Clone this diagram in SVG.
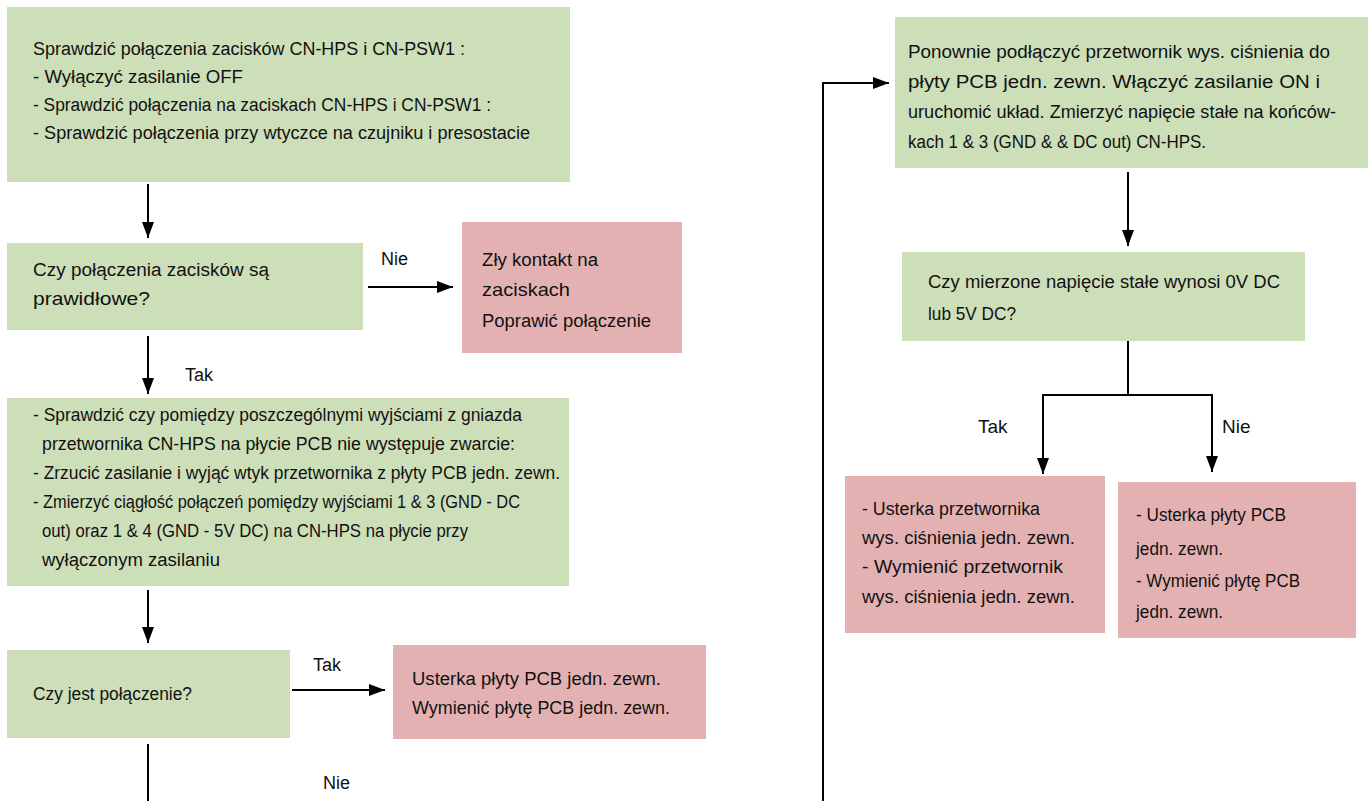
<svg xmlns="http://www.w3.org/2000/svg" width="1370" height="801" viewBox="0 0 1370 801">
<defs>
<marker id="ah" viewBox="0 0 16 12" refX="16" refY="6" markerWidth="16" markerHeight="12" markerUnits="userSpaceOnUse" orient="auto">
<path d="M0,0 L16,6 L0,12 z" fill="#000"/>
</marker>
<style>
.g{fill:#cddfb9}
.p{fill:#e3b1b1}
text{font-family:"Liberation Sans",Arial,sans-serif;font-size:18px;fill:#111}
.c{stroke:#000;stroke-width:2;fill:none}
.a{stroke:#000;stroke-width:2;fill:none;marker-end:url(#ah)}
</style>
</defs>
<rect width="1370" height="801" fill="#fff"/>

<g id="n1">
<rect class="g" x="7" y="7" width="563" height="175"/>
<text x="33" y="55" textLength="432" lengthAdjust="spacingAndGlyphs">Sprawdzić  połączenia  zacisków  CN-HPS  i  CN-PSW1 :</text>
<text x="33" y="83" textLength="210" lengthAdjust="spacingAndGlyphs">- Wyłączyć zasilanie OFF</text>
<text x="33" y="111" textLength="458" lengthAdjust="spacingAndGlyphs">- Sprawdzić  połączenia na zaciskach CN-HPS i CN-PSW1 :</text>
<text x="33" y="139" textLength="497" lengthAdjust="spacingAndGlyphs">- Sprawdzić  połączenia  przy  wtyczce  na  czujniku  i  presostacie</text>
</g>

<g id="n2">
<rect class="g" x="7" y="243" width="356" height="87"/>
<text x="33" y="276" textLength="236" lengthAdjust="spacingAndGlyphs">Czy połączenia zacisków są</text>
<text x="33" y="305" textLength="117" lengthAdjust="spacingAndGlyphs" style="font-size:19px">prawidłowe?</text>
</g>

<g id="n3">
<rect class="p" x="462" y="222" width="220" height="131"/>
<text x="482" y="266" textLength="116" lengthAdjust="spacingAndGlyphs">Zły kontakt na</text>
<text x="482" y="296" textLength="88" lengthAdjust="spacingAndGlyphs" style="font-size:19px">zaciskach</text>
<text x="482" y="327" textLength="169" lengthAdjust="spacingAndGlyphs">Poprawić połączenie</text>
</g>

<g id="n4">
<rect class="g" x="7" y="398" width="562" height="188"/>
<text x="33" y="421" textLength="489" lengthAdjust="spacingAndGlyphs">- Sprawdzić czy pomiędzy poszczególnymi wyjściami z gniazda</text>
<text x="42" y="450" textLength="473" lengthAdjust="spacingAndGlyphs">przetwornika CN-HPS na płycie PCB nie występuje zwarcie:</text>
<text x="33" y="479" textLength="527" lengthAdjust="spacingAndGlyphs">- Zrzucić zasilanie i wyjąć wtyk przetwornika z płyty PCB jedn. zewn.</text>
<text x="33" y="508" textLength="487" lengthAdjust="spacingAndGlyphs">- Zmierzyć ciągłość połączeń pomiędzy wyjściami 1 &amp; 3 (GND - DC</text>
<text x="42" y="537" textLength="426" lengthAdjust="spacingAndGlyphs">out) oraz 1 &amp; 4 (GND - 5V DC) na CN-HPS na płycie przy</text>
<text x="42" y="566" textLength="178" lengthAdjust="spacingAndGlyphs">wyłączonym zasilaniu</text>
</g>

<g id="n5">
<rect class="g" x="7" y="650" width="283" height="88"/>
<text x="33" y="700" textLength="159" lengthAdjust="spacingAndGlyphs">Czy jest połączenie?</text>
</g>

<g id="n6">
<rect class="p" x="393" y="645" width="313" height="94"/>
<text x="412" y="685" textLength="249" lengthAdjust="spacingAndGlyphs">Usterka  płyty  PCB  jedn.  zewn.</text>
<text x="412" y="714" textLength="258" lengthAdjust="spacingAndGlyphs">Wymienić płytę PCB jedn. zewn.</text>
</g>

<g id="n7">
<rect class="g" x="895" y="17" width="473" height="151"/>
<text x="908" y="58" textLength="422" lengthAdjust="spacingAndGlyphs">Ponownie podłączyć przetwornik wys. ciśnienia do</text>
<text x="908" y="88" textLength="412" lengthAdjust="spacingAndGlyphs">płyty PCB jedn. zewn. Włączyć zasilanie ON i</text>
<text x="908" y="118" textLength="428" lengthAdjust="spacingAndGlyphs">uruchomić układ. Zmierzyć napięcie stałe na końców-</text>
<text x="908" y="148" textLength="298" lengthAdjust="spacingAndGlyphs">kach 1 &amp; 3 (GND &amp; &amp; DC out) CN-HPS.</text>
</g>

<g id="n8">
<rect class="g" x="902" y="252" width="403" height="89"/>
<text x="928" y="288" textLength="352" lengthAdjust="spacingAndGlyphs">Czy mierzone napięcie stałe wynosi 0V DC</text>
<text x="928" y="320" textLength="88" lengthAdjust="spacingAndGlyphs">lub 5V DC?</text>
</g>

<g id="n9">
<rect class="p" x="845" y="476" width="260" height="157"/>
<text x="862" y="515" textLength="178" lengthAdjust="spacingAndGlyphs">- Usterka  przetwornika</text>
<text x="862" y="544" textLength="213" lengthAdjust="spacingAndGlyphs">wys.  ciśnienia  jedn.  zewn.</text>
<text x="862" y="573" textLength="201" lengthAdjust="spacingAndGlyphs">- Wymienić przetwornik</text>
<text x="862" y="603" textLength="213" lengthAdjust="spacingAndGlyphs">wys.  ciśnienia  jedn.  zewn.</text>
</g>

<g id="n10">
<rect class="p" x="1118" y="482" width="238" height="156"/>
<text x="1136" y="521" textLength="150" lengthAdjust="spacingAndGlyphs">- Usterka płyty PCB</text>
<text x="1136" y="555" textLength="87" lengthAdjust="spacingAndGlyphs">jedn. zewn.</text>
<text x="1136" y="587" textLength="164" lengthAdjust="spacingAndGlyphs">- Wymienić płytę PCB</text>
<text x="1136" y="618" textLength="87" lengthAdjust="spacingAndGlyphs">jedn. zewn.</text>
</g>

<g id="connectors">
<line class="a" x1="148" y1="184" x2="148" y2="238"/>
<line class="a" x1="368" y1="287" x2="453" y2="287"/>
<line class="a" x1="148" y1="336" x2="148" y2="394"/>
<line class="a" x1="148" y1="590" x2="148" y2="643"/>
<line class="a" x1="292" y1="690" x2="385" y2="690"/>
<line class="c" x1="148" y1="744" x2="148" y2="801"/>
<polyline class="a" points="823,801 823,83 889,83"/>
<line class="a" x1="1128" y1="172" x2="1128" y2="246"/>
<polyline class="c" points="1128,341 1128,395"/>
<polyline class="a" points="1128,395 1043,395 1043,474"/>
<polyline class="a" points="1128,395 1212,395 1212,472"/>
<text x="381" y="265">Nie</text>
<text x="185" y="381">Tak</text>
<text x="313" y="671">Tak</text>
<text x="323" y="789">Nie</text>
<text x="978" y="433" style="font-size:19px">Tak</text>
<text x="1222" y="433" style="font-size:19px">Nie</text>
</g>
</svg>
